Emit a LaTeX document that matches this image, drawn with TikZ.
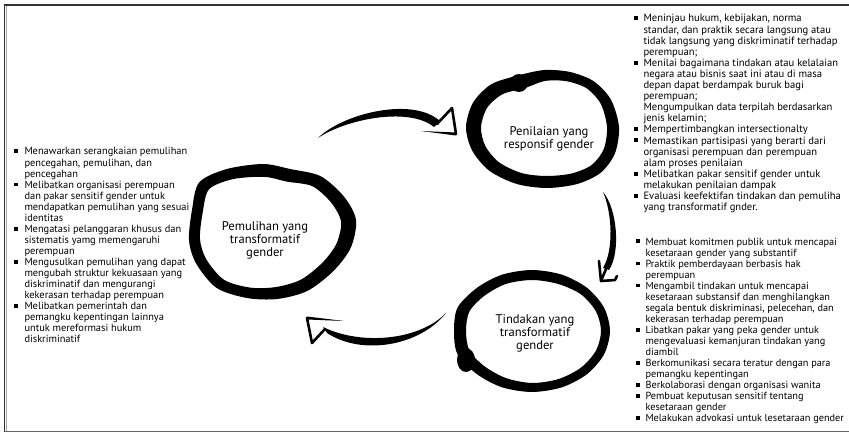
\documentclass[tikz,border=0pt]{standalone}
\usepackage{fontspec}
\setmainfont{PT Sans}
\usetikzlibrary{calc}

% small square bullet for the lists
\newcommand\sqb{\rule[1.8pt]{3.8pt}{3.8pt}}
% tapered brush end: wide at #1, thin at #2
\newcommand\wedgestroke[3]{\fill ($(#1)!#3!90:(#2)$) -- (#2) -- ($(#1)!#3!-90:(#2)$) -- cycle;}

\tikzset{
  listtext/.style={anchor=base west, inner sep=0pt, font=\fontsize{10.3}{11.05}\selectfont},
  ringlabel/.style={align=center, inner sep=0pt, font=\fontsize{12.6}{13}\selectfont},
  ring/.style={fill=black, draw=black, line width=2pt, even odd rule},
  headstroke/.style={line width=2.6pt, line cap=round, line join=round},
  frameline/.style={line width=1.6pt}
}

\begin{document}
\begin{tikzpicture}[x=1pt,y=-1pt]
\useasboundingbox (0,0) rectangle (849,433);
\fill[white] (0,0) rectangle (849,433);

% frame
\draw[frameline, black!80] (852,5) -- (4.6,5) -- (4.6,431.5);
\draw[line width=0.8pt, black!35] (6.2,6) -- (6.2,430.5);
\draw[frameline, black!60] (4.6,431.5) -- (852,431.5);

% ---- rings ----
% Pemulihan (left)
\path[ring] plot[smooth cycle] coordinates {(200,183) (227,170) (263,165) (290,170) (320,177) (343,197) (355,220) (350,247) (333,270) (307,290) (277,298) (247,297) (217,287) (197,263) (190,240) (193,210)}
  plot[smooth cycle] coordinates {(208.3,188.6) (232.9,178.1) (264.5,175.9) (286.9,180.6) (312.8,185.3) (332.2,202.3) (342.1,221.9) (337.2,244.5) (322.8,263.7) (301.3,280.6) (276.2,288.0) (250.2,288.6) (223.4,280.6) (205.3,259.6) (199.0,239.1) (201.7,212.4)};
\fill (256,171) ellipse [x radius=20, y radius=5.5];

% Penilaian (top right)
\path[ring] plot[smooth cycle] coordinates {(520,76) (545,71) (570,73) (593,82) (610,100) (618,127) (614,153) (600,172) (577,183) (547,187) (517,183) (490,170) (473,150) (467,127) (474,103) (492,85)}
  plot[smooth cycle] coordinates {(524.8,87.0) (544.7,80.0) (566.5,80.2) (587.1,87.4) (601.7,103.5) (608,127.1) (604.6,149.7) (592.1,165.9) (571.7,174.5) (546.3,177.0) (521.3,174.0) (498.6,163.2) (484.4,146.4) (480,127.2) (486.2,107.4) (501.9,93.4)};
\fill (519,83) circle [radius=9];

% Tindakan (bottom right)
\path[ring] plot[smooth cycle] coordinates {(532,271) (561.5,275.6) (586.4,288.6) (603.1,308) (609,331) (603.1,354) (586.4,373.4) (561.5,386.4) (532,391) (502.5,386.4) (477.6,373.4) (458.5,354) (455,331) (458.5,308) (477.6,288.6) (502.5,275.6)}
  plot[smooth cycle] coordinates {(532,279) (558.4,283.0) (581.5,293.5) (596.7,310.7) (602,331) (596.7,351.3) (581.5,368.5) (558.8,380.0) (532,384) (505.6,379.0) (483.9,367.1) (468.5,351) (465,331) (468.5,311) (483.9,294.9) (505.6,283.0)};
\fill (466,360) ellipse [x radius=9, y radius=12];

% ring labels
\node[ringlabel] (pemulihan) at (265,240) {Pemulihan yang\\transformatif\\gender};
\node[ringlabel] (penilaian) at (549,139) {Penilaian yang\\responsif gender};
\node[ringlabel] (tindakan) at (535,333) {Tindakan yang\\transformatif\\gender};

% ---- arrows ----
% Pemulihan -> Penilaian
\coordinate (a1s) at (318,138);
\coordinate (a1e) at (437,124);
\fill (a1s) .. controls (342,114) and (412,96) .. (440,121) -- (434,127) .. controls (408,106) and (344,120) .. (a1s) -- cycle;
\draw[headstroke] (a1e) -- (452,108) -- (456,134);
\wedgestroke{456,134}{421,131}{1.5pt}

% Penilaian -> Tindakan
\coordinate (a2s) at (603,192);
\coordinate (a2e) at (606,269);
\fill (a2s) .. controls (617,208) and (621,252) .. (609,270) -- (603,268) .. controls (614,250) and (612,212) .. (a2s) -- cycle;
\draw[headstroke] (a2e) -- (601,281);
\draw[headstroke] (599,261) -- (601,281) -- (615,280) -- (617,276);

% Tindakan -> Pemulihan
\coordinate (a3s) at (446,313);
\coordinate (a3e) at (325,329);
\fill (a3s) .. controls (420,346) and (362,356) .. (327,333) -- (323,327) .. controls (362,346) and (420,340) .. (a3s) -- cycle;
\draw[headstroke] (a3e) -- (312,343) -- (307,318);
\wedgestroke{307,318}{344,321}{1.5pt}

% ---- lists ----
\node[listtext, font=\fontsize{10.4}{11.05}\selectfont] (recovery) at (14,155) {\begin{tabular}[t]{@{}l@{\hspace{6.5pt}}l@{}}
\sqb & Menawarkan serangkaian pemulihan\\
& pencegahan, pemulihan, dan\\
& pencegahan\\
\sqb & Melibatkan organisasi perempuan\\
& dan pakar sensitif gender untuk\\
& mendapatkan pemulihan yang sesuai\\
& identitas\\
\sqb & Mengatasi pelanggaran khusus dan\\
& sistematis yamg memengaruhi\\
& perempuan\\
\sqb & Mengusulkan pemulihan yang dapat\\
& mengubah struktur kekuasaan yang\\
& diskriminatif dan mengurangi\\
& kekerasan terhadap perempuan\\
\sqb & Melibatkan pemerintah dan\\
& pemangku kepentingan lainnya\\
& untuk mereformasi hukum\\
& diskriminatif
\end{tabular}};

\node[listtext, font=\fontsize{10.6}{11.1}\selectfont] (assessment) at (634,22) {\begin{tabular}[t]{@{}l@{\hspace{5.5pt}}l@{}}
\sqb & Meninjau hukum, kebijakan, norma\\
& standar, dan praktik secara langsung atau\\
& tidak langsung yang diskriminatif terhadap\\
& perempuan;\\
\sqb & Menilai bagaimana tindakan atau kelalaian\\
& negara atau bisnis saat ini atau di masa\\
& depan dapat berdampak buruk bagi\\
& perempuan;\\
& Mengumpulkan data terpilah berdasarkan\\
& jenis kelamin;\\
\sqb & Mempertimbangkan intersectionalty\\
\sqb & Memastikan partisipasi yang berarti dari\\
& organisasi perempuan dan perempuan\\
& alam proses penilaian\\
\sqb & Melibatkan pakar sensitif gender untuk\\
& melakukan penilaian dampak\\
\sqb & Evaluasi keefektifan tindakan dan pemuliha\\
& yang transformatif gnder.
\end{tabular}};

\node[listtext] (action) at (636,245) {\begin{tabular}[t]{@{}l@{\hspace{5.5pt}}l@{}}
\sqb & Membuat komitmen publik untuk mencapai\\
& kesetaraan gender yang substantif\\
\sqb & Praktik pemberdayaan berbasis hak\\
& perempuan\\
\sqb & Mengambil tindakan untuk mencapai\\
& kesetaraan substansif dan menghilangkan\\
& segala bentuk diskriminasi, pelecehan, dan\\
& kekerasan terhadap perempuan\\
\sqb & Libatkan pakar yang peka gender untuk\\
& mengevaluasi kemanjuran tindakan yang\\
& diambil\\
\sqb & Berkomunikasi secara teratur dengan para\\
& pemangku kepentingan\\
\sqb & Berkolaborasi dengan organisasi wanita\\
\sqb & Pembuat keputusan sensitif tentang\\
& kesetaraan gender\\
\sqb & Melakukan advokasi untuk lesetaraan gender
\end{tabular}};
\end{tikzpicture}
\end{document}
